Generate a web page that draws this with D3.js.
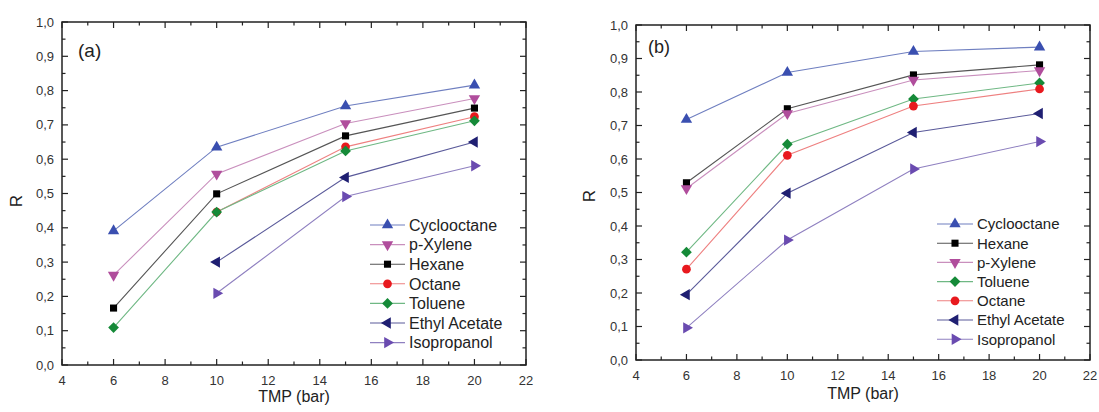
<!DOCTYPE html>
<html>
<head>
<meta charset="utf-8">
<script src="https://cdn.jsdelivr.net/npm/d3@7"></script>
<style>
  html, body { margin: 0; padding: 0; background: #fff; }
  svg { display: block; font-family: Arial, "Liberation Sans", sans-serif; }
</style>
</head>
<body>
<svg id="chart" width="1099" height="412"></svg>
<script>
// Transmembrane pressure (bar) at which rejection was measured
const tmp = [6, 10, 15, 20];
const xTicks = [4, 6, 8, 10, 12, 14, 16, 18, 20, 22];
const yTicks = [0, 0.1, 0.2, 0.3, 0.4, 0.5, 0.6, 0.7, 0.8, 0.9, 1.0];

// Panel (a): rejection R per solvent (null = not measured)
const aCyclooctane   = [0.391, 0.635, 0.755, 0.816];
const aPXylene       = [0.262, 0.557, 0.704, 0.777];
const aHexane        = [0.166, 0.499, 0.668, 0.749];
const aOctane        = [null,  0.446, 0.636, 0.724];
const aToluene       = [0.109, 0.446, 0.624, 0.712];
const aEthylAcetate  = [null,  0.300, 0.547, 0.650];
const aIsopropanol   = [null,  0.209, 0.491, 0.581];

// Panel (b)
const bCyclooctane   = [0.718, 0.858, 0.921, 0.934];
const bHexane        = [0.529, 0.750, 0.851, 0.881];
const bPXylene       = [0.512, 0.736, 0.836, 0.864];
const bToluene       = [0.322, 0.644, 0.779, 0.827];
const bOctane        = [0.271, 0.611, 0.758, 0.809];
const bEthylAcetate  = [0.195, 0.498, 0.679, 0.736];
const bIsopropanol   = [0.096, 0.358, 0.570, 0.652];

// Marker style per solvent
const styles = {
  "Cyclooctane":   { color: "#3a4fb0", line: "#6f7fc0", shape: "triUp" },
  "p-Xylene":      { color: "#b04d9c", line: "#c98fbd", shape: "triDown" },
  "Hexane":        { color: "#000000", line: "#555555", shape: "square" },
  "Octane":        { color: "#e8191e", line: "#ee8080", shape: "circle" },
  "Toluene":       { color: "#158a38", line: "#6fb884", shape: "diamond" },
  "Ethyl Acetate": { color: "#1f1f72", line: "#5a5a9a", shape: "triLeft" },
  "Isopropanol":   { color: "#6a4bb0", line: "#8f80c0", shape: "triRight" }
};

const panelA = {
  label: "(a)",
  box: { left: 62, top: 22, right: 526, bottom: 365 },
  series: [
    ["Cyclooctane", aCyclooctane], ["p-Xylene", aPXylene], ["Hexane", aHexane],
    ["Octane", aOctane], ["Toluene", aToluene], ["Ethyl Acetate", aEthylAcetate],
    ["Isopropanol", aIsopropanol]
  ],
  labelPos: [78, 57], labelSize: 19,
  legend: { x: 370, y: 225, step: 19.6, lineLen: 35, fontSize: 16 },
  yTitle: [17, 201], xTitleY: 402
};
const panelB = {
  label: "(b)",
  box: { left: 636, top: 25, right: 1090, bottom: 360 },
  series: [
    ["Cyclooctane", bCyclooctane], ["Hexane", bHexane], ["p-Xylene", bPXylene],
    ["Toluene", bToluene], ["Octane", bOctane], ["Ethyl Acetate", bEthylAcetate],
    ["Isopropanol", bIsopropanol]
  ],
  labelPos: [648, 53], labelSize: 18,
  legend: { x: 937, y: 224, step: 19.2, lineLen: 36, fontSize: 15 },
  yTitle: [590, 196], xTitleY: 399
};

function markerPath(shape) {
  switch (shape) {
    case "triUp":    return { d: d3.symbol(d3.symbolTriangle, 56)(), rot: 0 };
    case "triDown":  return { d: d3.symbol(d3.symbolTriangle, 56)(), rot: 180 };
    case "triLeft":  return { d: d3.symbol(d3.symbolTriangle, 56)(), rot: -90 };
    case "triRight": return { d: d3.symbol(d3.symbolTriangle, 56)(), rot: 90 };
    case "square":   return { d: d3.symbol(d3.symbolSquare, 50)(), rot: 0 };
    case "circle":   return { d: d3.symbol(d3.symbolCircle, 60)(), rot: 0 };
    case "diamond":  return { d: d3.symbol(d3.symbolSquare, 58)(), rot: 45 };
  }
}

function drawMarker(g, shape, color, cx, cy) {
  const m = markerPath(shape);
  g.append("path")
    .attr("d", m.d)
    .attr("transform", `translate(${cx},${cy}) rotate(${m.rot})`)
    .attr("fill", color);
}

const svg = d3.select("#chart");
const fmt = v => d3.format(".1f")(v).replace(".", ",");

function drawPanel(p) {
  const b = p.box;
  const x = d3.scaleLinear().domain([4, 22]).range([b.left, b.right]);
  const y = d3.scaleLinear().domain([0, 1]).range([b.bottom, b.top]);
  const g = svg.append("g");

  const minorX = d3.range(5, 22, 2);
  const minorY = d3.range(0.05, 1.0, 0.1);

  // inward ticks on all four sides
  const tickG = g.append("g").attr("stroke", "#222").attr("stroke-width", 1.2);
  [[xTicks, 6], [minorX, 3.5]].forEach(([vals, len]) => {
    vals.forEach(v => {
      tickG.append("line").attr("x1", x(v)).attr("x2", x(v)).attr("y1", b.bottom).attr("y2", b.bottom - len);
      tickG.append("line").attr("x1", x(v)).attr("x2", x(v)).attr("y1", b.top).attr("y2", b.top + len);
    });
  });
  [[yTicks, 6], [minorY, 3.5]].forEach(([vals, len]) => {
    vals.forEach(v => {
      tickG.append("line").attr("y1", y(v)).attr("y2", y(v)).attr("x1", b.left).attr("x2", b.left + len);
      tickG.append("line").attr("y1", y(v)).attr("y2", y(v)).attr("x1", b.right).attr("x2", b.right - len);
    });
  });

  // tick labels
  g.append("g").selectAll("text").data(xTicks).join("text")
    .attr("x", d => x(d)).attr("y", b.bottom + 20)
    .attr("text-anchor", "middle").attr("font-size", 13).attr("fill", "#333")
    .text(d => d);
  g.append("g").selectAll("text").data(yTicks).join("text")
    .attr("x", b.left - 8).attr("y", d => y(d) + 4.5)
    .attr("text-anchor", "end").attr("font-size", 13).attr("fill", "#333")
    .text(d => fmt(d));

  // axis titles
  g.append("text")
    .attr("x", (b.left + b.right) / 2).attr("y", p.xTitleY)
    .attr("text-anchor", "middle").attr("font-size", 16).attr("fill", "#222")
    .text("TMP (bar)");
  g.append("text")
    .attr("transform", `translate(${p.yTitle[0] + 5},${p.yTitle[1]}) rotate(-90)`)
    .attr("text-anchor", "middle").attr("font-size", 17).attr("fill", "#222")
    .text("R");

  // panel tag
  g.append("text")
    .attr("x", p.labelPos[0]).attr("y", p.labelPos[1])
    .attr("font-size", p.labelSize).attr("fill", "#222")
    .text(p.label);

  // series lines and markers
  const line = d3.line()
    .defined(d => d[1] != null)
    .x(d => x(d[0])).y(d => y(d[1]));
  p.series.forEach(([name, vals]) => {
    const st = styles[name];
    const pts = tmp.map((t, i) => [t, vals[i]]);
    g.append("path").datum(pts)
      .attr("d", line).attr("fill", "none")
      .attr("stroke", st.line).attr("stroke-width", 1.1);
  });
  p.series.forEach(([name, vals]) => {
    const st = styles[name];
    tmp.forEach((t, i) => {
      if (vals[i] != null) drawMarker(g, st.shape, st.color, x(t), y(vals[i]));
    });
  });

  // frame
  g.append("rect")
    .attr("x", b.left).attr("y", b.top)
    .attr("width", b.right - b.left).attr("height", b.bottom - b.top)
    .attr("fill", "none").attr("stroke", "#222").attr("stroke-width", 1.5);

  // legend
  const L = p.legend;
  p.series.forEach(([name], i) => {
    const st = styles[name];
    const ly = L.y + i * L.step;
    g.append("line")
      .attr("x1", L.x).attr("x2", L.x + L.lineLen).attr("y1", ly).attr("y2", ly)
      .attr("stroke", st.line).attr("stroke-width", 1.1);
    drawMarker(g, st.shape, st.color, L.x + L.lineLen / 2, ly);
    g.append("text")
      .attr("x", L.x + L.lineLen + 4).attr("y", ly + L.fontSize * 0.36)
      .attr("font-size", L.fontSize).attr("fill", "#222")
      .text(name);
  });
}

drawPanel(panelA);
drawPanel(panelB);
</script>
</body>
</html>
